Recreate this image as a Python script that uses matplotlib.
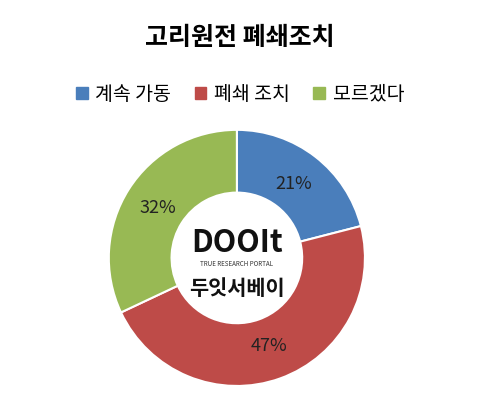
import numpy as np
import matplotlib.pyplot as plt

plt.rcParams['font.family'] = ['Noto Sans CJK KR', 'DejaVu Sans']

labels = ['계속 가동', '폐쇄 조치', '모르겠다']
values = [21, 47, 32]
colors = ['#4a7ebb', '#be4b48', '#98b954']

fig = plt.figure(figsize=(4.8, 4.18), dpi=100)
fig.patch.set_facecolor('white')
ax = fig.add_axes([0.16, 0.0, 0.667, 0.766])

wedges, texts = ax.pie(values, colors=colors, startangle=90, counterclock=False,
                       wedgeprops=dict(width=0.49, edgecolor='white', linewidth=1.5))
ax.set_aspect('equal')

for w, v in zip(wedges, values):
    ang = np.deg2rad((w.theta1 + w.theta2) / 2)
    ax.text(0.73 * np.cos(ang), 0.73 * np.sin(ang), f'{v}%', ha='center', va='center',
            fontsize=13, color='#222222')

# center logo
ax.text(0, 0.12, 'DOOIt', ha='center', va='center', fontsize=22, fontweight='bold', color='#111111')
ax.text(0, -0.05, 'TRUE RESEARCH PORTAL', ha='center', va='center', fontsize=4.5, color='#333333')
ax.text(0, -0.24, '두잇서베이', ha='center', va='center', fontsize=15, fontweight='bold', color='#111111')

fig.text(0.5, 0.91, '고리원전 폐쇄조치', ha='center', va='center', fontsize=18, fontweight='bold')

handles = [plt.Rectangle((0, 0), 1, 1, color=c) for c in colors]
fig.legend(handles, labels, loc='center', bbox_to_anchor=(0.5, 0.775), ncol=3, frameon=False,
           fontsize=14, handlelength=0.6, handleheight=0.6, handletextpad=0.4, columnspacing=1.2)

fig.savefig('out.png', dpi=100)
